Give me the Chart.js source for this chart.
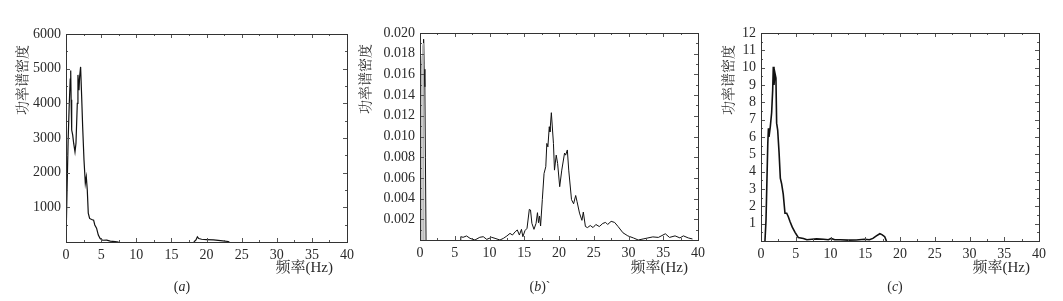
<!DOCTYPE html>
<html>
<head>
<meta charset="utf-8">
<script src="https://cdn.jsdelivr.net/npm/chart.js@4.4.0/dist/chart.umd.min.js"></script>
<style>
    body { margin: 0; background: #fff; width: 1063px; height: 301px; overflow: hidden; position: relative; }
    canvas { position: absolute; top: 0; }
</style>
</head>
<body>
<canvas id="chartA" width="354" height="301" style="left:0"></canvas>
<canvas id="chartB" width="354" height="301" style="left:354px"></canvas>
<canvas id="chartC" width="355" height="301" style="left:708px"></canvas>
<script>
// (a) PSD, null = gap in the trace
const freqA = [0, 0.15, 0.3, 0.45, 0.6, 0.67, 0.73, 0.81, 0.95, 1.09,
    1.28, 1.42, 1.61, 1.7, 1.85, 1.94, 2.08, 2.23, 2.37, 2.56,
    2.75, 2.89, 3.03, 3.17, 3.36, 3.65, 3.93, 4.1, 4.35, 4.6,
    4.86, 5.2, 5.8, 6.3, 7.0, 7.5, 12,
    18.2, 18.5, 18.7, 18.9, 19.3, 20, 21, 22, 23.1, 23.2];
const psdA = [0, 1500, 2900, 3900, 4700, 4950, 4100, 3230, 3090, 2850,
    2600, 2850, 4000, 4820, 4380, 4770, 5050, 4190, 3330, 2370,
    1690, 1880, 1500, 830, 680, 650, 630, 490, 400, 200,
    100, 50, 55, 25, 10, 0, null,
    0, 60, 150, 100, 80, 70, 60, 40, 15, 0];

// (b) grey spike near 0 Hz
const freqB0 = [0.02, 0.1, 0.2, 0.3, 0.4, 0.5, 0.58];
const psdB0 = [0, 0.013, 0.0165, 0.0178, 0.0188, 0.019, 0];

// (b) main trace
const freqB = [0.45, 0.52, 0.6, 0.7, 0.78, 0.87, 3,
    5.8, 5.87, 6.2, 6.7, 7.2, 7.9, 8.6, 9.1, 9.6, 10.3,
    10.8, 11.5, 12.0, 12.5, 12.95, 13.3, 13.7, 14.0, 14.3, 14.6,
    14.8, 15.1, 15.4, 15.73, 15.9, 16.1, 16.4, 16.7, 16.9, 17.05,
    17.2, 17.35, 17.6, 17.85, 18.1, 18.25, 18.4, 18.6, 18.7, 18.9,
    19.2, 19.35, 19.6, 19.8, 20.1, 20.4, 20.8, 20.95, 21.2, 21.4,
    21.8, 22.1, 22.4, 22.6, 22.95, 23.3, 23.5, 23.8, 24.1, 24.5,
    24.9, 25.3, 25.8, 26.3, 26.7, 27.0, 27.5, 28.0, 28.5, 29.2,
    29.9, 30.7, 31.4, 32.1, 32.8, 33.5, 34.3, 35.3, 35.9, 36.7,
    37.4, 37.9, 38.6, 39.2];
const psdB = [0.017, 0.0194, 0.0165, 0.0148, 0.008, 0, null,
    0, 0.00032, 0.00026, 0.00039, 0.00016, 0, 0.00026, 0.00032, 0.00006, 0.00026,
    0.00016, 0, 0.00016, 0.00039, 0.00064, 0.00048, 0.0008, 0.00097, 0.00048, 0.00103,
    0.00032, 0.0009, 0.00113, 0.00296, 0.0029, 0.00161, 0.00103, 0.00161, 0.00264, 0.00167,
    0.00232, 0.00135, 0.0039, 0.00643, 0.00708, 0.00933, 0.009, 0.01094, 0.01045, 0.0123,
    0.00933, 0.00675, 0.0082, 0.0074, 0.00515, 0.00675, 0.0084, 0.0082, 0.0087, 0.00675,
    0.0039, 0.0035, 0.0043, 0.0037, 0.0026, 0.0019, 0.0027, 0.0013, 0.0012, 0.0014,
    0.0012, 0.0015, 0.0013, 0.0016, 0.0017, 0.0015, 0.0018, 0.0017, 0.0013, 0.0007,
    0.0004, 0.0002, 0, 0.0001, 0.0002, 0.0003, 0.00025, 0.0006, 0.00025, 0.0004,
    0.0002, 0.0004, 0.0002, 0.0001];

// (c)
const freqC = [0.57, 0.72, 0.98, 1.07, 1.15, 1.34, 1.53, 1.68, 1.77, 1.87,
    2.0, 2.15, 2.25, 2.4, 2.6, 2.78, 2.97, 3.2, 3.45, 3.7,
    3.93, 4.2, 4.5, 4.9, 5.36, 6.1, 6.6, 7.3, 8.0, 9.0,
    9.7, 10.1, 10.6, 11.4, 12.55, 13.7, 14.9, 15.6, 16.1, 16.6,
    17.1, 17.4, 17.8, 18.05];
const psdC = [0, 1.2, 5.65, 6.5, 6.0, 6.6, 7.4, 8.7, 10.05, 9.0,
    9.7, 9.4, 6.8, 6.4, 5.1, 3.63, 3.3, 2.7, 1.6, 1.6,
    1.4, 1.1, 0.8, 0.5, 0.2, 0.15, 0.07, 0.1, 0.12, 0.1,
    0.07, 0.15, 0.07, 0.07, 0.05, 0.06, 0.1, 0.07, 0.15, 0.3,
    0.42, 0.37, 0.25, 0];

const yTitle = '功率谱密度';
const xTitle = '频率(Hz)';

const serif = "'Liberation Serif', 'DejaVu Serif', serif";
const cjk = "'Noto Serif CJK SC', 'Noto Sans CJK SC', sans-serif";

function toPoints(xs, ys) {
    return xs.map((x, i) => ({ x, y: ys[i] }));
}

function isMajor(v, step) {
    const r = v / step;
    return Math.abs(r - Math.round(r)) < 1e-6;
}

// box + inward ticks on all four sides
const frameTicks = {
    id: 'frameTicks',
    afterDatasetsDraw(chart, args, opts) {
        const { ctx, chartArea: a, scales: { x, y } } = chart;
        ctx.save();
        ctx.strokeStyle = '#555';
        ctx.lineWidth = 1;
        ctx.beginPath();
        x.ticks.forEach(t => {
            const px = Math.round(x.getPixelForValue(t.value)) + 0.5;
            const len = isMajor(t.value, opts.xMajor) ? 4 : 2;
            ctx.moveTo(px, a.bottom); ctx.lineTo(px, a.bottom - len);
            ctx.moveTo(px, a.top); ctx.lineTo(px, a.top + len);
        });
        y.ticks.forEach(t => {
            const py = Math.round(y.getPixelForValue(t.value)) + 0.5;
            const len = isMajor(t.value, opts.yMajor) ? 4 : 2;
            ctx.moveTo(a.left, py); ctx.lineTo(a.left + len, py);
            ctx.moveTo(a.right, py); ctx.lineTo(a.right - len, py);
        });
        ctx.stroke();
        ctx.strokeStyle = '#333';
        ctx.strokeRect(Math.round(a.left) + 0.5, Math.round(a.top) + 0.5,
            Math.round(a.right - a.left), Math.round(a.bottom - a.top));
        ctx.restore();
    }
};

// axis titles and panel caption
const panelText = {
    id: 'panelText',
    afterDraw(chart, args, opts) {
        const { ctx } = chart;
        ctx.save();
        ctx.fillStyle = '#2a2a2a';
        ctx.textBaseline = 'middle';

        ctx.save();
        ctx.translate(opts.yTitle[0], opts.yTitle[1]);
        ctx.rotate(-Math.PI / 2);
        ctx.textAlign = 'center';
        ctx.font = '14px ' + cjk;
        ctx.fillText(yTitle, 0, 0);
        ctx.restore();

        ctx.textAlign = 'right';
        ctx.font = '15px ' + serif + ', ' + cjk;
        ctx.fillText(xTitle, opts.xTitle[0], opts.xTitle[1]);

        // "(a)" with italic letter
        const [cx, cy] = opts.caption;
        const parts = [['(', '14px ' + serif], [opts.letter, 'italic 14px ' + serif], [')' + (opts.tail || ''), '14px ' + serif]];
        let total = 0;
        parts.forEach(p => { ctx.font = p[1]; total += ctx.measureText(p[0]).width; });
        let px = cx - total / 2;
        ctx.textAlign = 'left';
        parts.forEach(p => {
            ctx.font = p[1];
            ctx.fillText(p[0], px, cy);
            px += ctx.measureText(p[0]).width;
        });
        ctx.restore();
    }
};

function makePanel(id, cfg) {
    const tickFont = { family: serif, size: 14 };
    new Chart(document.getElementById(id), {
        type: 'line',
        data: { datasets: cfg.datasets },
        options: {
            responsive: false,
            animation: false,
            layout: { padding: { left: 0, top: cfg.top, right: cfg.right, bottom: 0 } },
            plugins: {
                legend: { display: false },
                tooltip: { enabled: false },
                frameTicks: { xMajor: 5, yMajor: cfg.yMajor },
                panelText: cfg.text
            },
            scales: {
                x: {
                    type: 'linear',
                    min: 0,
                    max: 40,
                    grid: { display: false, drawTicks: false },
                    border: { display: false },
                    afterFit: s => { s.height = cfg.xAxisH; s.paddingLeft = 0; s.paddingRight = 0; },
                    ticks: {
                        stepSize: 2.5,
                        autoSkip: false,
                        maxRotation: 0,
                        padding: 5,
                        color: '#2a2a2a',
                        font: tickFont,
                        callback: v => isMajor(v, 5) ? String(v) : ''
                    }
                },
                y: {
                    type: 'linear',
                    min: 0,
                    max: cfg.yMax,
                    grid: { display: false, drawTicks: false },
                    border: { display: false },
                    afterFit: s => { s.width = cfg.yAxisW; s.paddingTop = 0; s.paddingBottom = 0; },
                    ticks: {
                        stepSize: cfg.yStep,
                        autoSkip: false,
                        padding: 5,
                        color: '#2a2a2a',
                        font: tickFont,
                        callback: cfg.yLabel
                    }
                }
            }
        },
        plugins: [frameTicks, panelText]
    });
}

function lineSet(xs, ys, width, color) {
    return {
        data: toPoints(xs, ys),
        borderColor: color || '#111',
        borderWidth: width,
        pointRadius: 0,
        tension: 0,
        spanGaps: false,
        fill: false
    };
}

makePanel('chartA', {
    datasets: [lineSet(freqA, psdA, 1.2)],
    top: 34, right: 7, xAxisH: 59, yAxisW: 66,
    yMax: 6000, yStep: 500, yMajor: 1000,
    yLabel: v => (v > 0 && isMajor(v, 1000)) ? String(v) : '',
    text: { yTitle: [22, 80], xTitle: [333, 268], caption: [182, 287], letter: 'a' }
});

const spike = lineSet(freqB0, psdB0, 1, '#aaa');
spike.fill = 'origin';
spike.backgroundColor = '#ccc';

makePanel('chartB', {
    datasets: [spike, lineSet(freqB, psdB, 1)],
    top: 33, right: 10, xAxisH: 61, yAxisW: 66,
    yMax: 0.02, yStep: 0.001, yMajor: 0.002,
    yLabel: v => {
        const k = Math.round(v * 1000);
        return (k > 0 && k % 2 === 0) ? (k / 1000).toFixed(3) : '';
    },
    text: { yTitle: [11, 79], xTitle: [334, 268], caption: [186, 287], letter: 'b', tail: '`' }
});

makePanel('chartC', {
    datasets: [lineSet(freqC, psdC, 1.6)],
    top: 33, right: 24, xAxisH: 60, yAxisW: 53,
    yMax: 12, yStep: 0.5, yMajor: 1,
    yLabel: v => (v > 0 && isMajor(v, 1)) ? String(v) : '',
    text: { yTitle: [20, 80], xTitle: [322, 268], caption: [187, 287], letter: 'c' }
});
</script>
</body>
</html>
